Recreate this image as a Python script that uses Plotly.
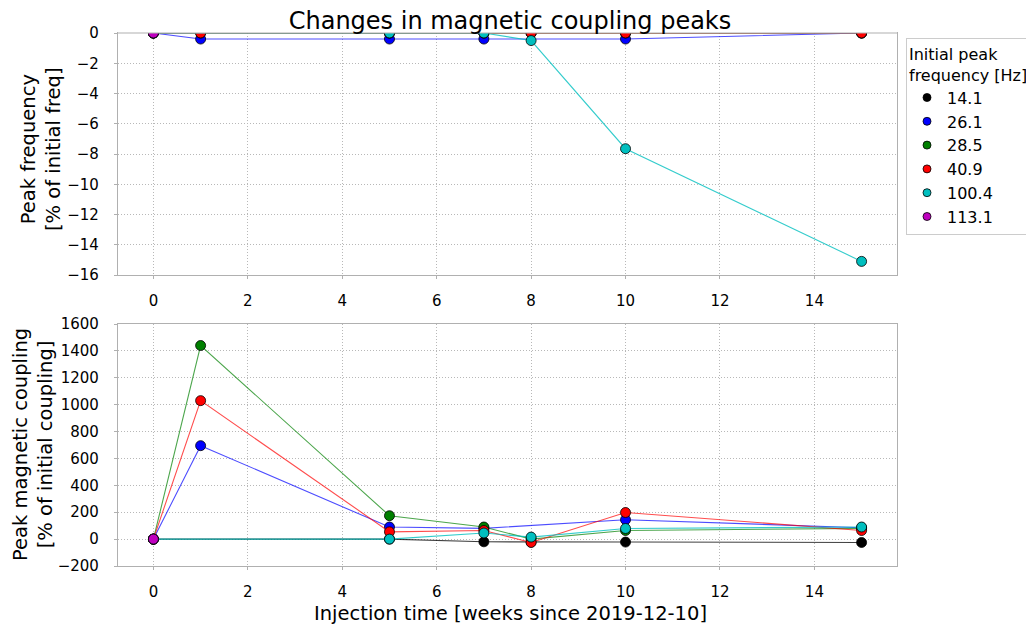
import plotly.graph_objects as go
from plotly.subplots import make_subplots

# ---- data ----
freq_labels = ["14.1", "26.1", "28.5", "40.9", "100.4", "113.1"]
colors = ["#000000", "#0000ff", "#008000", "#ff0000", "#00bfbf", "#bf00bf"]
line_colors = ["rgba(0,0,0,0.75)", "rgba(0,0,255,0.7)", "rgba(0,128,0,0.7)",
               "rgba(255,0,0,0.7)", "rgba(0,191,191,0.8)", "rgba(191,0,191,0.7)"]

weeks_14 = [0, 5, 7, 8, 10, 15]
freq_14 = [0, 0, 0, 0, 0, 0]
coup_14 = [0, 0, -20, -22, -22, -25]

weeks_26 = [0, 1, 5, 7, 10, 15]
freq_26 = [0, -0.4, -0.4, -0.4, -0.4, 0]
coup_26 = [0, 695, 90, 80, 144, 85]

weeks_28 = [0, 1, 5, 7, 8, 10, 15]
freq_28 = [0, 0, 0, 0, 0, 0, 0]
coup_28 = [0, 1440, 174, 90, 0, 64, 80]

weeks_40 = [0, 1, 5, 7, 8, 10, 15]
freq_40 = [0, 0, 0, 0, 0, 0, 0]
coup_40 = [0, 1030, 54, 64, -25, 198, 64]

weeks_100 = [0, 5, 7, 8, 10, 15]
freq_100 = [0, 0, 0, -0.5, -7.65, -15.1]
coup_100 = [0, 0, 45, 15, 79, 90]

weeks_113 = [0]
freq_113 = [0]
coup_113 = [0]

series = [
    (weeks_14, freq_14, coup_14),
    (weeks_26, freq_26, coup_26),
    (weeks_28, freq_28, coup_28),
    (weeks_40, freq_40, coup_40),
    (weeks_100, freq_100, coup_100),
    (weeks_113, freq_113, coup_113),
]

x_ticks = [0, 2, 4, 6, 8, 10, 12, 14]
top_y_ticks = [0, -2, -4, -6, -8, -10, -12, -14, -16]
bottom_y_ticks = [-200, 0, 200, 400, 600, 800, 1000, 1200, 1400, 1600]

FONT = "DejaVu Sans"
OFF = 8                      # default page body margin
W, H = 1034 - OFF, 626 - OFF  # figure size
# plot area in page pixels
L, R, T, B = 118, 897, 33, 566
PW, PH = R - L, B - T


def px_x(p):
    return (p - L) / PW


def px_y(p):
    return (B - p) / PH


fig = make_subplots(rows=2, cols=1, shared_xaxes=False,
                    vertical_spacing=(324 - 275) / PH)

for i, (w, f, c) in enumerate(series):
    mk = dict(size=10, color=colors[i], line=dict(color="black", width=0.8))
    ln = dict(color=line_colors[i], width=1.1)
    fig.add_trace(go.Scatter(x=w, y=f, mode="lines+markers", marker=mk, line=ln,
                             showlegend=False, hoverinfo="skip"), row=1, col=1)
    fig.add_trace(go.Scatter(x=w, y=c, mode="lines+markers", marker=mk, line=ln,
                             showlegend=False, hoverinfo="skip"), row=2, col=1)
    # legend-only marker entry
    fig.add_trace(go.Scatter(x=[None], y=[None], mode="markers",
                             marker=dict(size=8, color=colors[i], line=dict(color="black", width=0.8)),
                             name=freq_labels[i], showlegend=True), row=2, col=1)

axis_common = dict(
    showline=True, linecolor="#b0b0b0", linewidth=1.2, mirror=True,
    showgrid=True, gridcolor="#b8b8b8", griddash="1px,2px", gridwidth=1,
    zeroline=False, ticks="outside", ticklen=3, tickcolor="#b0b0b0",
    automargin=False,
    tickfont=dict(family=FONT, size=15, color="black"),
)

fig.update_xaxes(range=[-0.75, 15.75], tickvals=x_ticks, ticklabelstandoff=9, **axis_common)
fig.update_yaxes(ticklabelstandoff=12, **axis_common)
fig.update_yaxes(range=[-16, 0], tickvals=top_y_ticks, row=1, col=1)
fig.update_yaxes(range=[-200, 1600], tickvals=bottom_y_ticks, row=2, col=1)

title_font = dict(family=FONT, size=19.5, color="black")
annotations = [
    dict(text="Peak frequency<br>[% of initial freq]", x=px_x(41), y=px_y(149),
         xref="paper", yref="paper", textangle=-90, showarrow=False,
         xanchor="center", yanchor="middle", font=title_font),
    dict(text="Peak magnetic coupling<br>[% of initial coupling]", x=px_x(33), y=px_y(445),
         xref="paper", yref="paper", textangle=-90, showarrow=False,
         xanchor="center", yanchor="middle", font=title_font),
    dict(text="Injection time [weeks since 2019-12-10]", x=px_x(510), y=px_y(613),
         xref="paper", yref="paper", showarrow=False,
         xanchor="center", yanchor="middle", font=title_font),
]

shapes = [
    # mask above the top panel so markers sitting on y=0 appear clipped at the frame
    dict(type="rect", xref="paper", yref="paper", x0=0, x1=1, y0=1, y1=px_y(T - 14),
         fillcolor="white", line=dict(width=0), layer="above"),
    dict(type="line", xref="paper", yref="paper", x0=0, x1=1, y0=1, y1=1,
         line=dict(color="#b0b0b0", width=1.2), layer="above"),
]

fig.update_layout(
    width=W, height=H,
    margin=dict(l=L - OFF, r=(W + OFF) - R, t=T - OFF, b=(H + OFF) - B, autoexpand=False),
    paper_bgcolor="white", plot_bgcolor="white",
    font=dict(family=FONT, color="black"),
    title=dict(text="Changes in magnetic coupling peaks", x=(510 - OFF) / W, xanchor="center",
               y=1 - (21 - OFF) / H, yanchor="middle", xref="container", yref="container",
               font=dict(family=FONT, size=24, color="black")),
    annotations=annotations,
    shapes=shapes,
    legend=dict(
        title=dict(text="Initial peak<br>frequency [Hz]", font=dict(family=FONT, size=16)),
        font=dict(family=FONT, size=16, color="black"),
        x=px_x(906), xanchor="left", y=px_y(38), yanchor="top",
        bgcolor="white", bordercolor="#cccccc", borderwidth=1,
        tracegroupgap=0,
    ),
)

fig.write_html("out.html")
